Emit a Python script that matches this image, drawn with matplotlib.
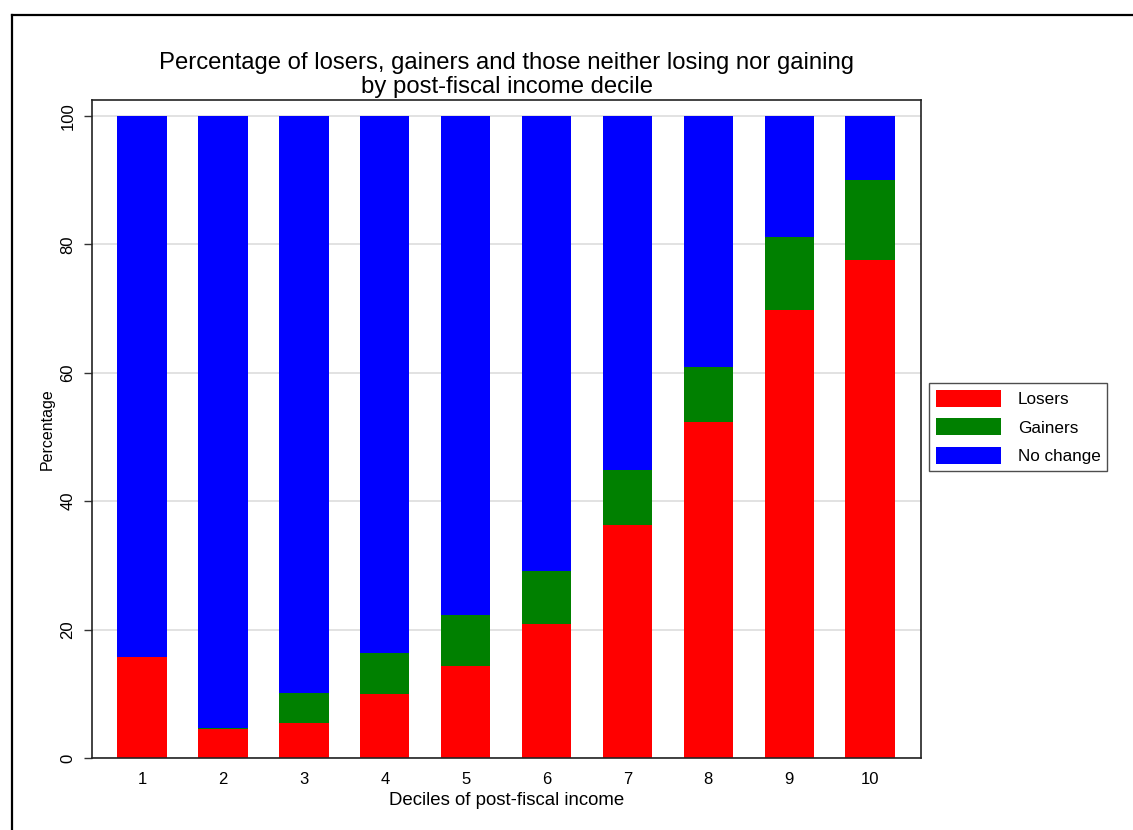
import matplotlib
matplotlib.use('Agg')
import matplotlib.pyplot as plt
from matplotlib.lines import Line2D
import numpy as np

plt.rcParams['font.family'] = ['Liberation Sans', 'DejaVu Sans']

deciles = [1, 2, 3, 4, 5, 6, 7, 8, 9, 10]
losers = [15.7, 4.5, 5.4, 10.0, 14.4, 20.9, 36.3, 52.4, 69.8, 77.6]
gainers = [0.0, 0.2, 4.7, 6.4, 7.9, 8.2, 8.6, 8.5, 11.3, 12.4]
no_change = [100 - l - g for l, g in zip(losers, gainers)]
y_ticks = [0, 20, 40, 60, 80, 100]

fig = plt.figure(figsize=(11.33, 8.3), dpi=100)
ax = fig.add_axes([0.0812, 0.0867, 0.7317, 0.7928])

x = np.array(deciles)
w = 0.61
ax.bar(x, losers, w, color="#FF0000", label="Losers", zorder=2)
ax.bar(x, gainers, w, bottom=losers, color="#008000", label="Gainers", zorder=2)
ax.bar(x, no_change, w, bottom=np.array(losers) + np.array(gainers),
       color="#0000FF", label="No change", zorder=2)

ax.set_xlim(0.38, 10.63)
ax.set_ylim(0, 102.5)
ax.set_xticks(deciles)
ax.set_yticks(y_ticks)
ax.set_yticklabels([str(v) for v in y_ticks], rotation=90, va="center")
ax.tick_params(axis="x", labelsize=12, length=0, pad=10)
ax.tick_params(axis="y", labelsize=12, length=6, width=1, color="#333333", pad=6)
ax.grid(axis="y", color="#DDDDDD", lw=1.2, zorder=0)
for s in ax.spines.values():
    s.set_color("#222222")
    s.set_linewidth(1.2)

ax.set_xlabel("Deciles of post-fiscal income", fontsize=13.4, labelpad=4)
ax.set_ylabel("Percentage", fontsize=11.5, labelpad=4)
ax.set_title("Percentage of losers, gainers and those neither losing nor gaining\n"
             "by post-fiscal income decile", fontsize=17.2, linespacing=1.1, pad=5)

ax.legend(loc="center left", bbox_to_anchor=(1.0095, 0.503), fontsize=12.3,
          frameon=True, fancybox=False, edgecolor="#222222",
          handlelength=3.8, handleheight=1.15, handletextpad=1.0,
          borderpad=0.4, labelspacing=0.66, borderaxespad=0)

# outer frame (top and left edges visible)
fig.add_artist(Line2D([12 / 1133, 1.0], [1 - 15 / 830, 1 - 15 / 830],
                      transform=fig.transFigure, color="black", lw=1.6))
fig.add_artist(Line2D([12 / 1133, 12 / 1133], [0.0, 1 - 15 / 830],
                      transform=fig.transFigure, color="black", lw=1.6))

fig.savefig("out.png", dpi=100)
